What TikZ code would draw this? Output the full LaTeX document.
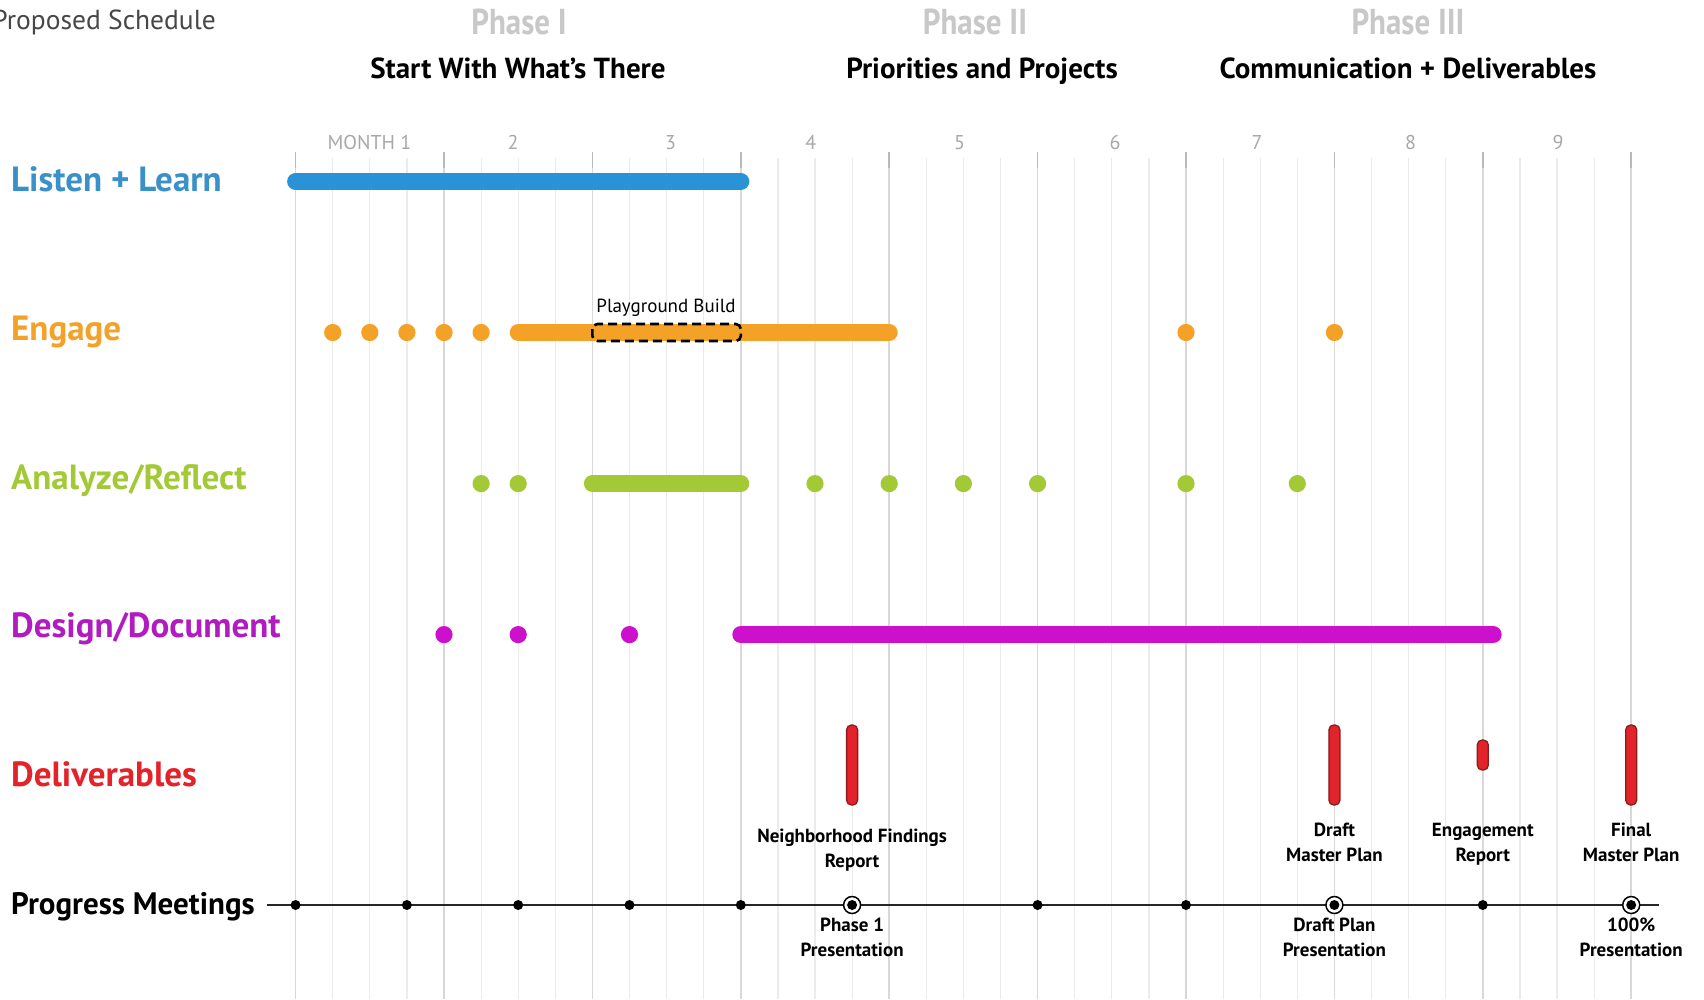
\documentclass[tikz,border=0pt]{standalone}
\usepackage{fontspec}
\setmainfont{PT Sans}
\usepackage{xcolor}
\usetikzlibrary{positioning}

\definecolor{listenblue}{HTML}{2A93D5}
\definecolor{listentext}{HTML}{3A90C8}
\definecolor{engageorange}{HTML}{F4A128}
\definecolor{analyzegreen}{HTML}{A3CA36}
\definecolor{designmagenta}{HTML}{CC10CC}
\definecolor{designtext}{HTML}{B01CC0}
\definecolor{delivred}{HTML}{E3232A}
\definecolor{delivedge}{HTML}{8A1B1E}
\definecolor{phasegray}{HTML}{C8C8C8}
\definecolor{monthgray}{HTML}{A8A8A8}
\definecolor{gridmain}{HTML}{D8D8D8}
\definecolor{gridminor}{HTML}{EBEBEB}

\newcommand{\monthx}[1]{295.6+148.4*#1}
\newcommand{\narrowtext}[1]{\scalebox{0.86}[1]{#1}}

\begin{document}
\begin{tikzpicture}[x=1pt, y=-1pt,
		rowlabel/.style={anchor=base west, inner sep=0pt, font=\fontsize{35}{40}\selectfont\bfseries},
		phasehead/.style={anchor=base, inner sep=0pt, text=phasegray, font=\fontsize{36}{40}\selectfont\bfseries},
		phasesub/.style={anchor=base, inner sep=0pt, font=\fontsize{29}{34}\selectfont\bfseries},
		monthlbl/.style={anchor=base, inner sep=0pt, text=monthgray, font=\fontsize{20}{24}\selectfont},
		notelbl/.style={anchor=north, inner sep=0pt, align=center, font=\fontsize{19}{25}\selectfont\bfseries},
		bar/.style={line width=17pt, line cap=round},
		delivbar/.style={draw=delivedge, fill=delivred, line width=1.3pt, rounded corners=4.8pt},
		meetdot/.style={fill=black}
	]
	\useasboundingbox (0,0) rectangle (1704,999);
	\fill[white] (0,0) rectangle (1704,999);

	% grid
	\foreach \q in {0,...,36}
		{
			\draw[gridminor, line width=1.2pt] ({295.6+37.1*\q},158) -- ({295.6+37.1*\q},999);
		}
	\foreach \k in {0,...,9}
		{
			\draw[gridmain, line width=1.5pt] ({\monthx{\k}},165) -- ({\monthx{\k}},999);
			\draw[monthgray!80, line width=1.5pt] ({\monthx{\k}},152) -- ({\monthx{\k}},168);
		}

	% titles
	\node[anchor=base east, inner sep=0pt, text=black!72, font=\fontsize{27.5}{30}\selectfont] (title) at (216,29) {Proposed Schedule};
	\node[phasehead] (ph1) at (519,34) {\narrowtext{Phase I}};
	\node[phasehead] (ph2) at (975,34) {\narrowtext{Phase II}};
	\node[phasehead] (ph3) at (1408,34) {\narrowtext{Phase III}};
	\node[phasesub] (sub1) at (518,78) {Start With What’s There};
	\node[phasesub] (sub2) at (982,78) {Priorities and Projects};
	\node[phasesub] (sub3) at (1408,78) {Communication + Deliverables};
	\foreach \x/\m [count=\i] in {369.5/MONTH 1,513/2,670.5/3,810.7/4,959.6/5,1115/6,1257/7,1410.5/8,1558/9}
		{
			\node[monthlbl] (month\i) at (\x,149) {\m};
		}

	% row labels
	\node[rowlabel, text=listentext] (listen) at (11,191) {Listen + Learn};
	\node[rowlabel, text=engageorange] (engage) at (11,340) {Engage};
	\node[rowlabel, text=analyzegreen] (analyze) at (11,489) {Analyze/Reflect};
	\node[rowlabel, text=designtext] (design) at (11,637) {Design/Document};
	\node[rowlabel, text=delivred] (deliver) at (11,786) {Deliverables};
	\node[rowlabel, text=black, font=\fontsize{31}{36}\selectfont\bfseries] (meetings) at (11,914) {Progress Meetings};

	% listen + learn
	\draw[bar, listenblue] ({\monthx{0}},181.5) -- ({\monthx{3}},181.5);

	% engage
	\draw[bar, engageorange] ({\monthx{1.5}},332.5) -- ({\monthx{4}},332.5);
	\foreach \k in {0.25,0.5,0.75,1,1.25,6,7}
		{
			\fill[engageorange] ({\monthx{\k}},332.5) circle (8.6pt);
		}
	\draw[black, line width=2.6pt, dash pattern=on 9pt off 5pt, rounded corners=5pt]
		({\monthx{2}},324) rectangle ({\monthx{3}},341);
	\node[inner sep=0pt, anchor=base, font=\fontsize{19}{22}\selectfont] (playground) at (666,312) {Playground Build};

	% analyze / reflect
	\draw[bar, analyzegreen] ({\monthx{2}},483.6) -- ({\monthx{3}},483.6);
	\foreach \k in {1.25,1.5,3.5,4,4.5,5,6,6.75}
		{
			\fill[analyzegreen] ({\monthx{\k}},483.6) circle (8.6pt);
		}

	% design / document
	\draw[bar, designmagenta] ({\monthx{3}},634.6) -- ({\monthx{8.07}},634.6);
	\foreach \k in {1,1.5,2.25}
		{
			\fill[designmagenta] ({\monthx{\k}},634.6) circle (8.6pt);
		}

	% deliverables
	\foreach \k/\top/\bot in {3.75/725/805,7/725/805,8/740/770,9/725/805}
		{
			\draw[delivbar] ({\monthx{\k}-5.5},\top) rectangle ({\monthx{\k}+5.5},\bot);
		}
	\node[notelbl] (findings) at ({\monthx{3.75}},829) {Neighborhood Findings\\Report};
	\node[notelbl] (draftmp) at ({\monthx{7}},823) {Draft\\Master Plan};
	\node[notelbl] (engrep) at ({\monthx{8}},823) {Engagement\\Report};
	\node[notelbl] (finalmp) at ({\monthx{9}},823) {Final\\Master Plan};

	% progress meetings
	\coordinate (meetstart) at ({\monthx{-0.19}},905);
	\coordinate (meetend) at ({\monthx{9.19}},905);
	\draw[black!85, line width=2pt] (meetstart) -- (meetend);
	\foreach \k in {0,0.75,1.5,2.25,3,5,6,8}
		{
			\fill[meetdot] ({\monthx{\k}},905) circle (5pt);
		}
	\foreach \k in {3.75,7,9}
		{
			\draw[black, fill=white, line width=1.5pt] ({\monthx{\k}},905) circle (8.5pt);
			\fill[meetdot] ({\monthx{\k}},905) circle (5pt);
		}
	\node[notelbl] (pres1) at ({\monthx{3.75}},918) {Phase 1\\Presentation};
	\node[notelbl] (pres2) at ({\monthx{7}},918) {Draft Plan\\Presentation};
	\node[notelbl] (pres3) at ({\monthx{9}},918) {100\%\\Presentation};
\end{tikzpicture}
\end{document}
